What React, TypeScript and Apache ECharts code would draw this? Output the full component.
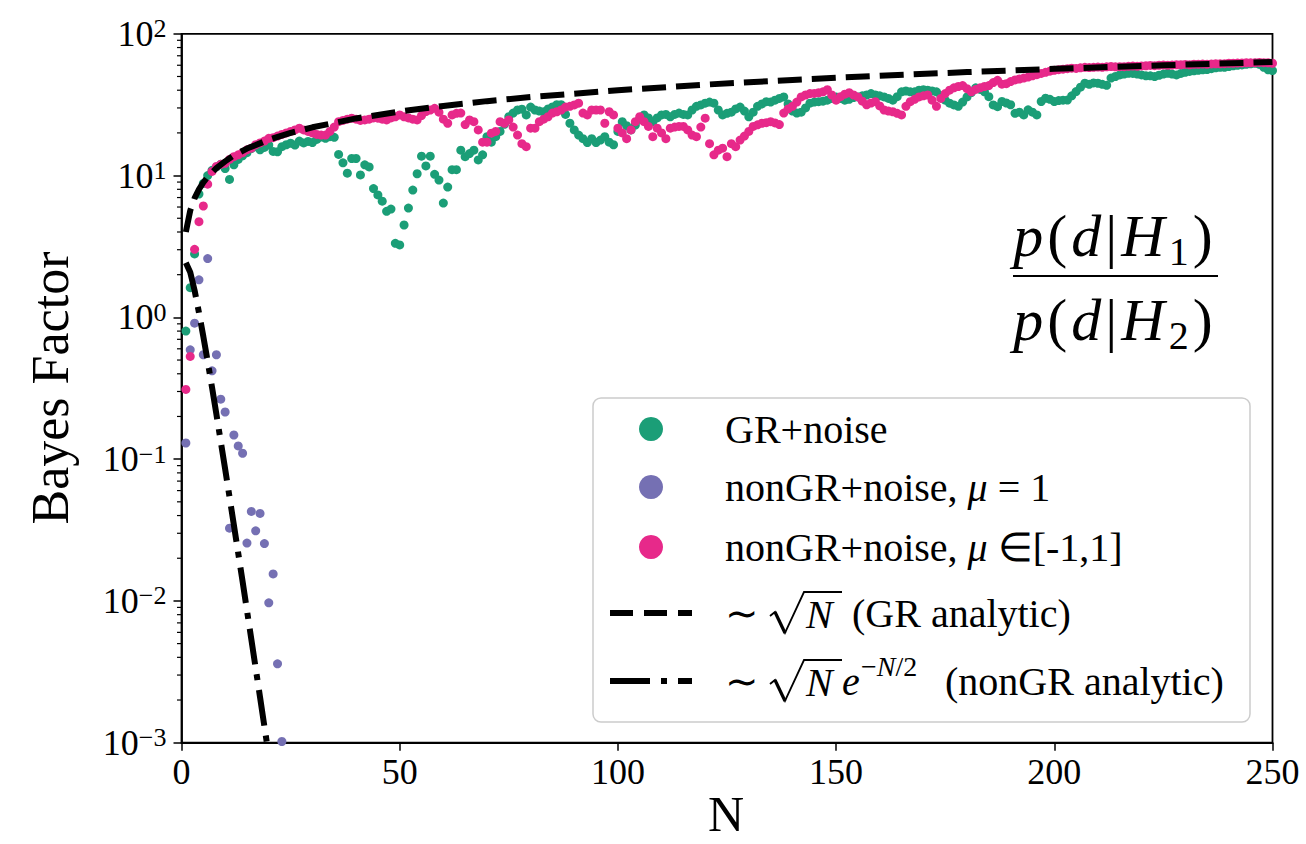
import React, { useEffect, useRef } from "react";
import * as echarts from "echarts";

const FONT = "'Liberation Serif', 'Times New Roman', serif";

// Series data (Bayes factor vs number of events N, N = 1..250)
const grNoise = [
  0.80, 1.62, 2.8, 7.4, 8.8, 10.0, 10.9, 11.5, 12.0, 11.2,
  9.4, 11.9, 13.0, 13.8, 14.5, 15.5, 16.0, 15.2, 15.8, 16.4,
  14.8, 14.7, 16.0, 16.5, 16.9, 16.4, 17.5, 17.0, 17.4, 17.1,
  18.0, 18.7, 18.3, 18.8, 18.6, 14.1, 12.3, 10.4, 13.2, 13.2,
  10.1, 11.9, 11.5, 8.1, 7.3, 6.6, 5.6, 5.8, 3.33, 3.24,
  4.48, 5.9, 7.9, 10.3, 13.7, 11.7, 13.7, 10.2, 9.3, 6.4,
  8.3, 11.0, 11.0, 15.1, 13.6, 14.3, 15.1, 12.9, 14.0, 18.8,
  17.2, 18.8, 20.5, 23.0, 26.0, 27.6, 29.0, 29.4, 26.8, 30.4,
  29.0, 28.5, 28.2, 29.5, 30.5, 31.6, 31.6, 27.0, 23.4, 21.0,
  19.3, 18.2, 17.1, 18.2, 17.1, 17.8, 18.8, 17.2, 16.5, 20.5,
  24.0, 22.5, 21.0, 22.7, 25.0, 26.8, 25.5, 24.0, 25.5, 26.8,
  27.0, 26.0, 27.0, 27.6, 27.0, 26.8, 29.0, 30.8, 31.5, 32.4,
  33.0, 32.4, 29.0, 26.8, 27.5, 28.0, 29.5, 30.4, 28.5, 26.0,
  28.0, 30.8, 32.0, 33.2, 33.0, 34.0, 35.0, 35.9, 32.0, 28.5,
  27.6, 28.0, 30.0, 32.4, 33.0, 33.2, 33.5, 34.0, 35.0, 35.9,
  35.0, 34.0, 34.5, 35.5, 35.9, 36.5, 37.0, 37.9, 37.0, 36.5,
  35.9, 35.0, 34.0, 36.0, 39.0, 39.5, 39.0, 39.0, 40.0, 40.3,
  40.0, 39.5, 39.0, 36.5, 34.0, 32.4, 31.5, 30.8, 33.0, 35.9,
  38.5, 41.6, 40.5, 39.0, 36.0, 31.5, 30.6, 33.3, 32.5, 31.6,
  27.5, 28.0, 26.8, 29.1, 28.0, 26.8, 33.3, 35.1, 34.5, 33.3,
  33.8, 34.0, 34.1, 36.5, 39.1, 42.0, 44.8, 44.0, 45.0, 44.8,
  44.0, 43.3, 48.7, 50.0, 51.3, 52.0, 52.7, 52.5, 52.0, 51.3,
  50.5, 50.5, 50.0, 51.0, 52.0, 52.7, 52.0, 51.3, 52.5, 53.5,
  54.3, 54.8, 55.3, 55.7, 56.0, 56.8, 57.5, 58.0, 58.1, 58.8,
  59.5, 60.0, 60.3, 61.0, 61.5, 62.0, 61.0, 58.0, 55.7, 55.0,
];

const nonGrRange = [
  0.31, 0.53, 3.02, 4.73, 6.1, 8.7, 10.7, 11.6, 12.0, 12.2,
  13.0, 13.6, 14.0, 14.5, 15.2, 15.6, 16.5, 17.0, 17.5, 18.3,
  18.5, 19.0, 19.5, 20.0, 20.5, 21.0, 21.6, 21.0, 20.5, 20.0,
  19.5, 19.3, 19.3, 20.5, 22.0, 24.0, 24.5, 25.0, 25.4, 25.0,
  24.5, 24.7, 25.0, 25.5, 25.4, 25.0, 24.7, 25.5, 26.0, 26.8,
  26.0, 25.5, 25.0, 24.7, 26.5, 28.3, 29.0, 29.8, 28.0, 25.0,
  23.4, 26.8, 27.5, 27.6, 22.9, 24.7, 24.0, 21.0, 17.2, 17.2,
  19.9, 20.5, 24.0, 23.4, 24.7, 22.0, 19.3, 16.8, 16.0, 21.6,
  21.6, 24.0, 25.0, 26.0, 27.6, 28.2, 29.0, 30.4, 30.8, 31.5,
  32.4, 27.6, 26.8, 29.0, 29.0, 29.0, 23.4, 28.2, 26.8, 21.6,
  20.0, 18.2, 21.0, 24.0, 26.0, 24.0, 22.2, 18.8, 21.6, 20.0,
  18.2, 21.6, 22.0, 22.2, 22.2, 21.0, 19.3, 18.8, 22.0, 25.4,
  16.8, 14.0, 15.1, 15.6, 13.6, 16.8, 16.0, 17.8, 19.0, 20.5,
  22.2, 22.8, 23.4, 23.6, 24.0, 23.5, 22.9, 27.6, 29.5, 30.8,
  33.0, 35.9, 37.0, 37.9, 38.0, 38.4, 39.0, 40.3, 37.0, 34.0,
  36.0, 37.5, 38.4, 37.0, 35.9, 33.5, 31.6, 32.5, 33.2, 31.0,
  29.0, 28.5, 28.2, 27.5, 26.8, 30.8, 33.2, 34.5, 35.9, 36.5,
  37.0, 34.0, 30.8, 35.0, 37.9, 40.0, 41.6, 42.5, 43.1, 41.0,
  39.0, 40.5, 41.6, 42.5, 43.1, 45.3, 47.0, 44.1, 44.5, 46.0,
  47.3, 48.0, 48.7, 49.5, 50.5, 51.5, 52.5, 53.5, 54.5, 55.3,
  55.8, 56.3, 56.8, 57.2, 57.0, 57.5, 58.0, 57.8, 58.0, 58.3,
  58.0, 58.5, 58.8, 58.5, 58.6, 58.6, 59.0, 59.2, 59.0, 59.3,
  59.5, 59.8, 59.6, 60.0, 60.2, 60.0, 60.2, 60.5, 60.5, 60.8,
  60.5, 61.0, 61.0, 61.2, 61.0, 61.3, 61.5, 61.4, 61.6, 62.0,
  62.0, 62.2, 62.3, 62.5, 62.4, 62.6, 62.8, 62.6, 62.5, 62.0,
];

const nonGrMu1N = [1, 2, 3, 4, 5, 6, 7, 8, 9, 10, 11, 12, 13, 14, 15, 16, 17, 18, 19, 20, 21, 22, 23];
const nonGrMu1 = [
  0.13, 0.59, 0.91, 1.84, 0.545, 2.6, 0.42, 0.545, 0.265, 0.215, 0.0326, 0.148,
  0.124, 0.11, 0.0256, 0.0428, 0.0312, 0.0414, 0.0254, 0.0097, 0.0155, 0.0036, 0.00102,
];

// Analytic curves
const grAnalyticN = [1, 2, 3, 4, 5, 6, 8, 10, 12, 15, 20, 25, 30, 40, 50, 60, 70, 80, 100, 120, 140, 160, 180, 200, 225, 250];
const grAnalytic = [4.0, 5.66, 6.93, 8.0, 8.94, 9.8, 11.3, 12.6, 13.9, 15.5, 17.9, 20.0, 21.9, 25.3, 28.3, 31.0, 33.5, 35.8, 40.0, 43.8, 47.3, 50.6, 53.7, 56.6, 60.0, 63.2];
const nonGrAnalyticN = [1, 2, 3, 4, 5, 6, 7, 8, 9, 10, 11, 12, 13, 14, 15, 16, 17, 18, 19, 20, 21];
const nonGrAnalytic = [2.43, 2.08, 1.55, 1.08, 0.734, 0.488, 0.32, 0.207, 0.133, 0.0852, 0.0542, 0.0343, 0.0217, 0.0137, 0.00857, 0.00537, 0.00335, 0.00209, 0.0013, 0.000812, 0.000504];

const xTicks = [0, 50, 100, 150, 200, 250];
const yMinorTicks = [
  0.002, 0.003, 0.004, 0.005, 0.006, 0.007, 0.008, 0.009,
  0.02, 0.03, 0.04, 0.05, 0.06, 0.07, 0.08, 0.09,
  0.2, 0.3, 0.4, 0.5, 0.6, 0.7, 0.8, 0.9,
  2, 3, 4, 5, 6, 7, 8, 9,
  20, 30, 40, 50, 60, 70, 80, 90,
];

const GREEN = "#1b9e77";
const PURPLE = "#7570b3";
const PINK = "#e7298a";

function radical(x: number, cy: number, endX: number, z: number) {
  // sqrt sign drawn as a polyline: small hook, long down stroke, rising stroke, vinculum
  return [
    {
      type: "polyline",
      shape: {
        points: [
          [x, cy + 3],
          [x + 5, cy - 1],
          [x + 15, cy + 20],
          [x + 34, cy - 21],
          [endX, cy - 21],
        ],
      },
      style: { stroke: "#000", lineWidth: 1.8, fill: null, lineJoin: "miter" },
      z,
    },
    {
      type: "line",
      shape: { x1: x + 5, y1: cy - 1, x2: x + 15, y2: cy + 20 },
      style: { stroke: "#000", lineWidth: 3.2 },
      z,
    },
  ];
}

export default function App() {
  const ref = useRef<HTMLDivElement>(null);

  useEffect(() => {
    if (!ref.current) return;
    const chart = echarts.init(ref.current, null, { renderer: "svg" });

    const supFmt = (v: number) => {
      const e = Math.round(Math.log10(v));
      const s = e < 0 ? "\u2212" + -e : String(e);
      return "{b|10}{s|" + s + "}";
    };

    const legendRowY = [429, 487, 547, 613, 681];
    const legendTextX = 725;
    const textStyleBase = { fill: "#000", fontFamily: FONT };

    const fracRich = {
      i: { fontSize: 60, fontStyle: "italic", fontFamily: FONT, color: "#000", lineHeight: 70, padding: [0, 2] },
      r: { fontSize: 60, fontFamily: FONT, color: "#000", lineHeight: 70, padding: [0, 2] },
      sub: { fontSize: 40, fontFamily: FONT, color: "#000", lineHeight: 40, verticalAlign: "bottom", padding: [0, 2] },
    };

    const legendRich = {
      r: { fontSize: 40, fontFamily: FONT, color: "#000" },
      i: { fontSize: 40, fontFamily: FONT, fontStyle: "italic", color: "#000" },
    };

    const option: any = {
      animation: false,
      backgroundColor: "#fff",
      grid: {
        left: 181.5,
        right: 33.5,
        top: 33.8,
        bottom: 101.3,
        show: true,
        borderColor: "#000",
        borderWidth: 1.8,
        backgroundColor: "transparent",
      },
      xAxis: {
        type: "value",
        min: xTicks[0],
        max: xTicks[xTicks.length - 1],
        interval: 50,
        axisLine: { show: true, onZero: false, lineStyle: { color: "#000", width: 1.8 } },
        axisTick: { show: true, inside: false, length: 8, lineStyle: { color: "#000", width: 1.5 } },
        axisLabel: { fontFamily: FONT, fontSize: 36, color: "#000", margin: 11 },
        splitLine: { show: false },
      },
      yAxis: {
        type: "log",
        logBase: 10,
        min: 0.001,
        max: 100,
        axisLine: { show: true, onZero: false, lineStyle: { color: "#000", width: 1.8 } },
        axisTick: { show: true, inside: false, length: 8, lineStyle: { color: "#000", width: 1.5 } },
        axisLabel: {
          margin: 15,
          formatter: supFmt,
          rich: {
            b: { fontFamily: FONT, fontSize: 36, color: "#000", lineHeight: 36 },
            s: { fontFamily: FONT, fontSize: 26, color: "#000", lineHeight: 24, verticalAlign: "top" },
          },
        },
        splitLine: { show: false },
      },
      series: [
        {
          type: "custom",
          name: "minor ticks",
          silent: true,
          clip: false,
          data: yMinorTicks.map((v) => [0, v]),
          renderItem: (params: any, api: any) => {
            const p = api.coord([0, api.value(1)]);
            return {
              type: "line",
              shape: { x1: p[0] - 4.5, y1: p[1], x2: p[0], y2: p[1] },
              style: { stroke: "#000", lineWidth: 1.2 },
            };
          },
          z: 5,
        },
        {
          type: "scatter",
          name: "GR+noise",
          data: grNoise.map((v, i) => [i + 1, v]),
          symbolSize: 9,
          itemStyle: { color: GREEN, opacity: 1 },
          z: 2,
        },
        {
          type: "scatter",
          name: "nonGR+noise, mu=1",
          data: nonGrMu1.map((v, i) => [nonGrMu1N[i], v]),
          symbolSize: 9,
          itemStyle: { color: PURPLE, opacity: 1 },
          z: 2,
        },
        {
          type: "scatter",
          name: "nonGR+noise, mu in [-1,1]",
          data: nonGrRange.map((v, i) => [i + 1, v]),
          symbolSize: 9,
          itemStyle: { color: PINK, opacity: 1 },
          z: 2,
        },
        {
          type: "line",
          name: "GR analytic",
          data: grAnalytic.map((v, i) => [grAnalyticN[i], v]),
          showSymbol: false,
          symbol: "none",
          smooth: false,
          clip: true,
          lineStyle: { color: "#000", width: 6, type: [24, 10] },
          z: 3,
        },
        {
          type: "line",
          name: "nonGR analytic",
          data: nonGrAnalytic.map((v, i) => [nonGrAnalyticN[i], v]),
          showSymbol: false,
          symbol: "none",
          clip: true,
          lineStyle: { color: "#000", width: 6, type: [36, 10, 6, 10] },
          z: 3,
        },
      ],
      graphic: [
        // axis names
        {
          type: "text",
          x: 50,
          y: 388,
          rotation: Math.PI / 2,
          style: { ...textStyleBase, text: "Bayes Factor", fontSize: 52, align: "center", verticalAlign: "middle" },
        },
        {
          type: "text",
          x: 726,
          y: 814,
          style: { ...textStyleBase, text: "N", fontSize: 50, align: "center", verticalAlign: "middle" },
        },
        // Fraction annotation
        {
          type: "text",
          x: 1113,
          y: 236,
          style: {
            text: "{i|p}{r|(}{i|d}{r||}{i|H}{sub|1}{r|)}",
            rich: fracRich,
            align: "center",
            verticalAlign: "middle",
          },
        },
        {
          type: "line",
          shape: { x1: 1013, y1: 276, x2: 1218, y2: 276 },
          style: { stroke: "#000", lineWidth: 2 },
        },
        {
          type: "text",
          x: 1113,
          y: 320,
          style: {
            text: "{i|p}{r|(}{i|d}{r||}{i|H}{sub|2}{r|)}",
            rich: fracRich,
            align: "center",
            verticalAlign: "middle",
          },
        },
        // Legend box
        {
          type: "rect",
          shape: { x: 593, y: 398, width: 657, height: 324, r: 8 },
          style: { fill: "rgba(255,255,255,0.85)", stroke: "#cccccc", lineWidth: 1.5 },
          z: 10,
        },
        { type: "circle", shape: { cx: 651, cy: legendRowY[0], r: 12 }, style: { fill: GREEN }, z: 11 },
        { type: "circle", shape: { cx: 651, cy: legendRowY[1], r: 12 }, style: { fill: PURPLE }, z: 11 },
        { type: "circle", shape: { cx: 651, cy: legendRowY[2], r: 12 }, style: { fill: PINK }, z: 11 },
        {
          type: "line",
          shape: { x1: 610, y1: legendRowY[3], x2: 692, y2: legendRowY[3] },
          style: { stroke: "#000", lineWidth: 6, lineDash: [23, 11] },
          z: 11,
        },
        {
          type: "line",
          shape: { x1: 610, y1: legendRowY[4], x2: 692, y2: legendRowY[4] },
          style: { stroke: "#000", lineWidth: 6, lineDash: [40, 11, 6, 11] },
          z: 11,
        },
        {
          type: "text",
          x: legendTextX,
          y: legendRowY[0],
          style: { text: "{r|GR+noise}", rich: legendRich, verticalAlign: "middle" },
          z: 11,
        },
        {
          type: "text",
          x: legendTextX,
          y: legendRowY[1],
          style: { text: "{r|nonGR+noise, }{i|\u03bc}{r| = 1}", rich: legendRich, verticalAlign: "middle" },
          z: 11,
        },
        {
          type: "text",
          x: legendTextX,
          y: legendRowY[2],
          style: { text: "{r|nonGR+noise, }{i|\u03bc}{r| \u2208[-1,1]}", rich: legendRich, verticalAlign: "middle" },
          z: 11,
        },
        // row 4: ~ sqrt(N) (GR analytic)
        {
          type: "text",
          x: legendTextX,
          y: legendRowY[3],
          style: { ...textStyleBase, text: "\u223c", fontSize: 40, verticalAlign: "middle" },
          z: 11,
        },
        ...radical(770, legendRowY[3], 842, 11),
        {
          type: "text",
          x: 806,
          y: legendRowY[3] + 1,
          style: { ...textStyleBase, text: "N", fontSize: 40, fontStyle: "italic", verticalAlign: "middle" },
          z: 11,
        },
        {
          type: "text",
          x: 852,
          y: legendRowY[3],
          style: { ...textStyleBase, text: "(GR analytic)", fontSize: 40, verticalAlign: "middle" },
          z: 11,
        },
        // row 5: ~ sqrt(N) e^{-N/2} (nonGR analytic)
        {
          type: "text",
          x: legendTextX,
          y: legendRowY[4],
          style: { ...textStyleBase, text: "\u223c", fontSize: 40, verticalAlign: "middle" },
          z: 11,
        },
        ...radical(770, legendRowY[4], 842, 11),
        {
          type: "text",
          x: 806,
          y: legendRowY[4] + 1,
          style: { ...textStyleBase, text: "N", fontSize: 40, fontStyle: "italic", verticalAlign: "middle" },
          z: 11,
        },
        {
          type: "text",
          x: 842,
          y: legendRowY[4],
          style: { ...textStyleBase, text: "e", fontSize: 40, fontStyle: "italic", verticalAlign: "middle" },
          z: 11,
        },
        {
          type: "text",
          x: 861,
          y: legendRowY[4] - 15,
          style: {
            text: "{r|\u2212}{i|N}{r|/2}",
            rich: {
              r: { fontSize: 28, fontFamily: FONT, color: "#000" },
              i: { fontSize: 28, fontFamily: FONT, fontStyle: "italic", color: "#000" },
            },
            verticalAlign: "middle",
          },
          z: 11,
        },
        {
          type: "text",
          x: 945,
          y: legendRowY[4],
          style: { ...textStyleBase, text: "(nonGR analytic)", fontSize: 40, verticalAlign: "middle" },
          z: 11,
        },
      ],
    };

    chart.setOption(option);
    return () => chart.dispose();
  }, []);

  return (
    <div
      ref={ref}
      style={{ position: "fixed", left: 0, top: 0, width: 1306, height: 844, background: "#fff" }}
    />
  );
}
